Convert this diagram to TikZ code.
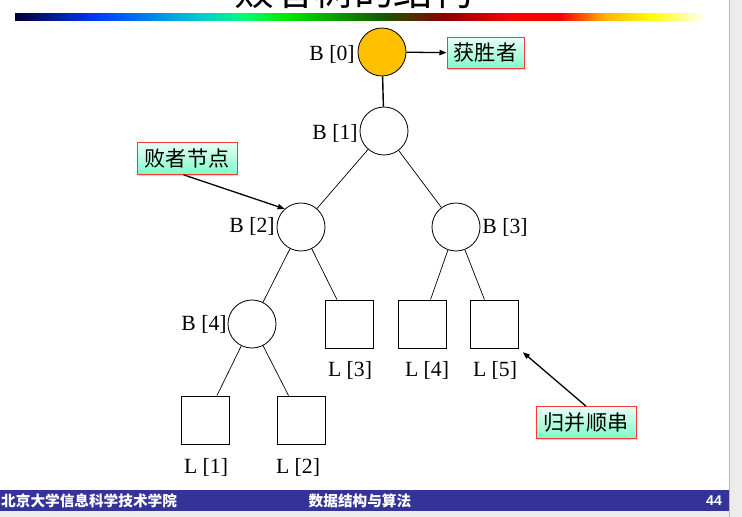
\documentclass[tikz,border=0pt]{standalone}
\usepackage{fontspec}
\setmainfont{Liberation Serif}
\newfontfamily\cjk{Noto Sans CJK SC}
\newfontfamily\pagefont{Liberation Sans}
\usetikzlibrary{arrows.meta}
\usetikzlibrary{shadows}

\definecolor{winner}{RGB}{255,192,0}
\definecolor{mintTop}{RGB}{232,255,246}
\definecolor{mintBot}{RGB}{128,250,200}
\definecolor{frameRed}{RGB}{255,55,55}
\definecolor{footBlue}{RGB}{51,51,153}
\definecolor{rbA}{RGB}{0,0,51}
\definecolor{rbB}{RGB}{0,60,255}
\definecolor{rbC}{RGB}{0,205,210}
\definecolor{rbD}{RGB}{0,255,120}
\definecolor{rbE}{RGB}{0,235,0}
\definecolor{rbF}{RGB}{20,90,0}
\definecolor{rbG}{RGB}{140,0,0}
\definecolor{rbH}{RGB}{255,0,0}
\definecolor{rbI}{RGB}{255,180,0}
\definecolor{rbJ}{RGB}{255,255,0}
\definecolor{rbK}{RGB}{255,255,255}
\pgfdeclarehorizontalshading{rainbowbar}{100bp}{color(0bp)=(rbA); color(25bp)=(rbA);
  color(31bp)=(rbB); color(38.5bp)=(rbC); color(41.5bp)=(rbD); color(44.5bp)=(rbE);
  color(51.5bp)=(rbF); color(56bp)=(rbG); color(61bp)=(rbH); color(64.5bp)=(rbH);
  color(67.7bp)=(rbI); color(71bp)=(rbJ); color(75bp)=(rbK); color(100bp)=(rbK)}

\begin{document}
\begin{tikzpicture}[
        x=0.03cm, y=-0.03cm,
        knot/.style={circle, draw, line width=0.7pt, minimum size=1.44cm, inner sep=0pt},
        leaf/.style={rectangle, draw, line width=0.7pt, minimum size=1.44cm, inner sep=0pt},
        tag/.style={draw=frameRed, line width=0.8pt, top color=mintTop, bottom color=mintBot,
            minimum height=0.95cm, inner xsep=4pt, font=\cjk\fontsize{18}{20}\selectfont,
            drop shadow={shadow xshift=1pt, shadow yshift=-1pt, opacity=0.25}},
        caption/.style={inner sep=0pt, font=\fontsize{18.5}{20}\selectfont},
        link/.style={line width=0.6pt},
        pointer/.style={-{Triangle[length=6pt,width=4.5pt]}, line width=1.1pt, black},
        foot/.style={text=white, inner sep=0pt, font=\cjk\bfseries\fontsize{12.5}{14}\selectfont},
    ]
    \fill[white] (0,0) rectangle (742,517);
    \useasboundingbox (0,0) rectangle (742,517);
    \fill[gray!15] (729,0) rectangle (742,517);
    \draw[gray!55] (729,0) -- (729,517);
    \fill[gray!15] (0,511) rectangle (729,517);
    \fill[footBlue] (0,490) rectangle (729,511);
    \shade[shading=rainbowbar] (15,14) rectangle (706,21);
    \begin{scope}
        \clip (0,0) rectangle (742,517);
        \node[anchor=base, inner sep=0pt] (title) at (354,6) {\cjk\fontsize{34}{40}\selectfont 败者树的结构};
    \end{scope}
    \node[foot, anchor=west] (school) at (1,500.5) {北京大学信息科学技术学院};
    \node[foot] (course) at (360,500.5) {数据结构与算法};
    \node[foot, font=\pagefont\bfseries\fontsize{12}{14}\selectfont] (page) at (714,501) {44};

    \node[knot, fill=winner] (b0) at (382,52) {};
    \node[knot] (b1) at (384,131) {};
    \node[knot] (b2) at (301,227) {};
    \node[knot] (b3) at (456,227) {};
    \node[knot] (b4) at (252,324) {};
    \node[leaf] (l1) at (205,420) {};
    \node[leaf] (l2) at (301,420) {};
    \node[leaf] (l3) at (349,324) {};
    \node[leaf] (l4) at (422,324) {};
    \node[leaf] (l5) at (494,324) {};

    \node[caption] (b0name) at (332,54) {B [0]};
    \node[caption] (b1name) at (335,133) {B [1]};
    \node[caption] (b2name) at (252,226) {B [2]};
    \node[caption] (b3name) at (505,227) {B [3]};
    \node[caption] (b4name) at (204,324) {B [4]};
    \node[caption] (l1name) at (206,467) {L [1]};
    \node[caption] (l2name) at (298,467) {L [2]};
    \node[caption] (l3name) at (350,370) {L [3]};
    \node[caption] (l4name) at (427,370) {L [4]};
    \node[caption] (l5name) at (495,370) {L [5]};

    \node[tag, minimum width=2.31cm] (win) at (485.5,53) {获胜者};
    \node[tag, minimum width=3cm] (lose) at (187,158.5) {败者节点};
    \node[tag, minimum width=3cm] (merge) at (586,422.5) {归并顺串};

    \draw[line width=1.2pt] (b0) -- (b1);
    \draw[link] (b1) -- (b2);
    \draw[link] (b1) -- (b3);
    \draw[link] (b2) -- (b4);
    \draw[link] (b2) -- (l3);
    \draw[link] (b3) -- (l4);
    \draw[link] (b3) -- (l5);
    \draw[link] (b4) -- (l1);
    \draw[link] (b4) -- (l2);

    \draw[pointer] (b0) -- (win);
    \draw[pointer] ([xshift=-3pt]lose.south) -- (b2.132);
    \draw[pointer, shorten >=5pt] (merge.north) -- (l5.south east);
\end{tikzpicture}
\end{document}
